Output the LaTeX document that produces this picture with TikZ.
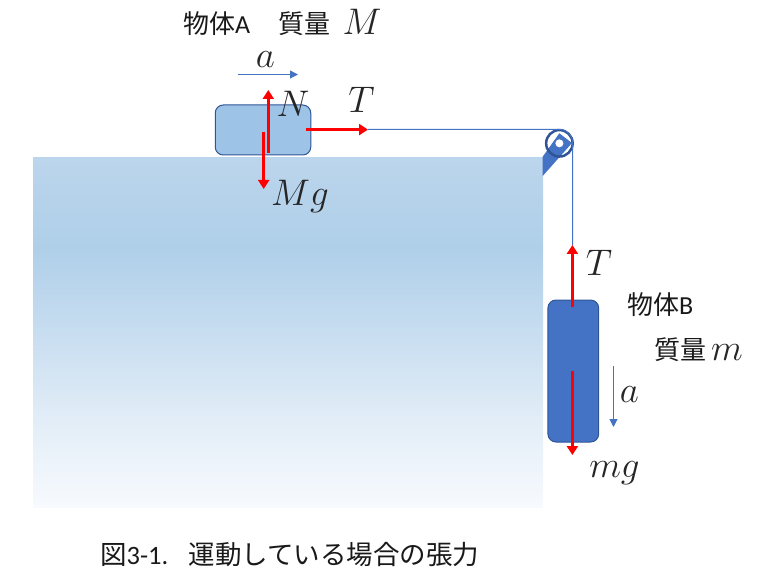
\documentclass[tikz,border=0pt]{standalone}
\usepackage{fix-cm}
\usepackage{fontspec}
\setmainfont{Carlito}
\newfontfamily\jp{Noto Sans CJK JP}
\usetikzlibrary{arrows.meta}
\definecolor{shadeTop}{HTML}{BBD5EC}
\definecolor{shadeDark}{HTML}{AFCFE9}
\definecolor{shadeMidA}{HTML}{CEE1F2}
\definecolor{shadeMidB}{HTML}{E2EDF7}
\definecolor{shadeEnd}{HTML}{F7FAFE}
\definecolor{blockA}{HTML}{9DC3E6}
\definecolor{rope}{HTML}{4472C4}
\definecolor{blockborder}{HTML}{2F5597}
\pgfdeclareverticalshading{tableshade}{100bp}{
  color(0bp)=(shadeEnd);
  color(25bp)=(shadeEnd);
  color(37.5bp)=(shadeMidB);
  color(47bp)=(shadeMidA);
  color(62bp)=(shadeDark);
  color(75bp)=(shadeTop);
  color(100bp)=(shadeTop)}
\tikzset{
  blockbox/.style={draw=blockborder,line width=1pt,rounded corners=8pt,inner sep=0pt,minimum width=#1},
  force/.style={draw=red,line width=3.2pt,-{Triangle[length=9pt,width=11pt]}},
  accel/.style={draw=rope,line width=1pt,-{Triangle[length=8pt,width=8pt]}},
  lab/.style={inner sep=0pt,text=black!85,font=\fontsize{37}{42}\selectfont},
  jptext/.style={inner sep=0pt,anchor=base west,text=black!90,font=\jp\fontsize{26}{30}\selectfont},
}
\newcommand{\lat}[1]{{\rmfamily #1}}
\begin{document}
\begin{tikzpicture}[x=1pt,y=-1pt]
\useasboundingbox (0,0) rectangle (758,580);
% table
\node[inner sep=0pt,outer sep=0pt,minimum width=510pt,minimum height=349.5pt,anchor=north west,shading=tableshade] (table) at (33,157.5) {};
% bracket
\fill[rope] (542.7,156.7) -- (559.3,133.3) -- (572,143) -- (542.7,176) -- cycle;
% pulley
\coordinate (pc) at (559.4,143.3);
\node[circle,draw=blockborder,line width=2.5pt,minimum size=26.5pt,inner sep=0pt] (pulley) at (pc) {};
\node[circle,fill=white,minimum size=8pt,inner sep=0pt] (hole) at (pc) {};
% blocks
\node[blockbox=95.5pt,minimum height=50pt,fill=blockA] (A) at (263,130) {};
\node[blockbox=50.7pt,minimum height=142pt,fill=rope] (B) at (573.3,371) {};
% rope
\coordinate (r1) at (368,129.4);
\coordinate (r2) at (559.3,129.4);
\coordinate (r4) at (572.6,245);
\draw[rope,line width=0.8pt] (r1) -- (r2) arc (-90:0:13.3) -- (r4);
% forces
\coordinate (n1) at (268.3,153); \coordinate (n2) at (268.3,90);
\coordinate (g1) at (263.7,132); \coordinate (g2) at (263.7,189);
\coordinate (t1) at (306,129.6); \coordinate (t2) at (368,129.6);
\coordinate (u1) at (572.4,307); \coordinate (u2) at (572.4,245);
\coordinate (d1) at (572.4,371); \coordinate (d2) at (572.4,455);
\draw[force] (n1) -- (n2);
\draw[force] (g1) -- (g2);
\draw[force] (t1) -- (t2);
\draw[force] (u1) -- (u2);
\draw[force] (d1) -- (d2);
% accelerations
\coordinate (a1) at (237.5,74.5); \coordinate (a2) at (298,74.5);
\coordinate (b1) at (613.5,366); \coordinate (b2) at (613.5,427);
\draw[accel] (a1) -- (a2);
\draw[accel] (b1) -- (b2);
% labels
\node[jptext] (ta) at (183,34) {物体\lat{A}};
\node[jptext] (tm) at (278,34) {質量};
\node[lab] (lM) at (362,22) {$M$};
\node[lab] (la) at (265.5,60) {$a$};
\node[lab] (lN) at (293,104) {$N$};
\node[lab] (lT) at (361.5,100) {$T$};
\node[lab] (lMg) at (300,196) {$Mg$};
\node[lab] (lT2) at (599,263) {$T$};
\node[lab] (lmg) at (614.5,473) {$mg$};
\node[lab] (la2) at (629.5,395) {$a$};
\node[jptext] (tb) at (627,314) {物体\lat{B}};
\node[jptext] (tq) at (654,359) {質量};
\node[lab] (lm) at (727,353) {$m$};
\node[jptext,font=\jp\fontsize{26.5}{30}\selectfont] (c1) at (100,564) {図\lat{3-1.}};
\node[jptext,font=\jp\fontsize{26.5}{30}\selectfont] (c2) at (188.5,564) {運動している場合の張力};
\end{tikzpicture}
\end{document}
